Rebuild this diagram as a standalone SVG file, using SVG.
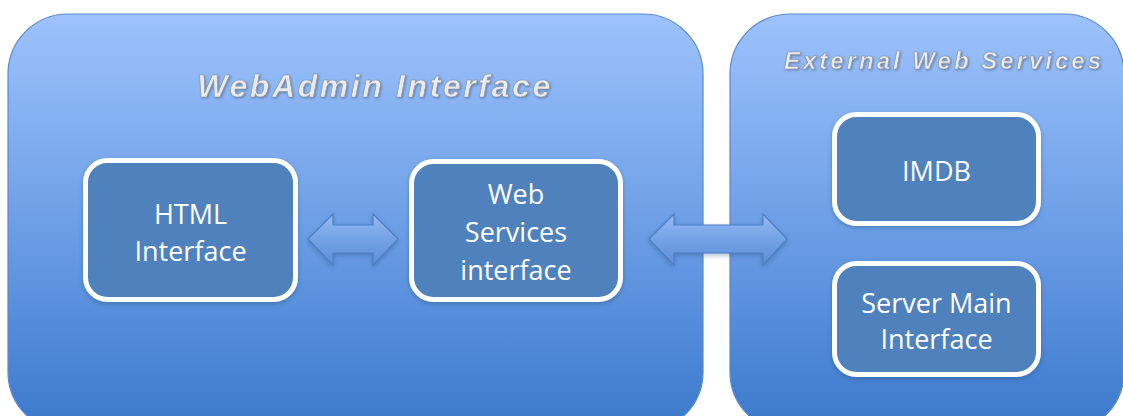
<svg xmlns="http://www.w3.org/2000/svg" width="1123" height="416" viewBox="0 0 1123 416">
  <defs>
    <linearGradient id="bgGrad" x1="0" y1="0" x2="0" y2="1">
      <stop offset="0" stop-color="#9dc2fc"/>
      <stop offset="0.5" stop-color="#6d9fe6"/>
      <stop offset="1" stop-color="#3b78cb"/>
    </linearGradient>
    <linearGradient id="arrowGrad" x1="0" y1="0" x2="0" y2="1">
      <stop offset="0" stop-color="#96bbf3"/>
      <stop offset="0.5" stop-color="#73a2e6"/>
      <stop offset="1" stop-color="#5d8fd9"/>
    </linearGradient>
    <filter id="shadow" x="-10%" y="-10%" width="120%" height="125%">
      <feDropShadow dx="0" dy="2" stdDeviation="2" flood-color="#1f3f70" flood-opacity="0.35"/>
    </filter>
    <filter id="txtShadow" x="-5%" y="-20%" width="110%" height="150%">
      <feDropShadow dx="1" dy="1" stdDeviation="0.8" flood-color="#4a5a78" flood-opacity="0.6"/>
    </filter>
    <style>
      .container { fill: url(#bgGrad); stroke: #5a89cc; stroke-width: 1.2; }
      .box { fill: #4f81bd; stroke: #ffffff; stroke-width: 5; filter: url(#shadow); }
      .label { font-family: "Open Sans", "Noto Sans", sans-serif; font-size: 27px; fill: #ffffff; text-anchor: middle; }
      .title { font-family: "Liberation Sans", Arial, sans-serif; font-weight: bold; font-style: italic; fill: #ebebeb; stroke: #8c99ad; stroke-width: 0.7; text-anchor: middle; filter: url(#txtShadow); }
      .arrow { fill: url(#arrowGrad); stroke: #4d7fc6; stroke-width: 1.2; stroke-linejoin: miter; filter: url(#shadow); }
    </style>
  </defs>

  <rect x="0" y="0" width="1123" height="416" fill="#ffffff"/>

  <g id="webadmin-container">
    <rect class="container" x="8" y="14" width="695" height="418" rx="60" ry="60"/>
    <text class="title" x="375" y="97" font-size="32" letter-spacing="2.6">WebAdmin Interface</text>
  </g>

  <g id="external-container">
    <rect class="container" x="730" y="14" width="394" height="418" rx="60" ry="60"/>
    <text class="title" x="944" y="69" font-size="24" letter-spacing="3">External Web Services</text>
  </g>

  <g id="connectors">
    <path class="arrow" d="M308,239 L333,214 L333,225 L373,225 L373,214 L398,239 L373,265 L373,253 L333,253 L333,265 Z"/>
    <path class="arrow" d="M649,239 L674,214 L674,225 L763,225 L763,214 L787,239 L763,265 L763,253 L674,253 L674,265 Z"/>
  </g>

  <g id="html-interface">
    <rect class="box" x="85.5" y="160.5" width="210" height="139" rx="22" ry="22"/>
    <text class="label" x="190.5" y="224">HTML</text>
    <text class="label" x="190.5" y="261">Interface</text>
  </g>

  <g id="web-services-interface">
    <rect class="box" x="411.5" y="161.5" width="209" height="138" rx="22" ry="22"/>
    <text class="label" x="516" y="204">Web</text>
    <text class="label" x="516" y="242">Services</text>
    <text class="label" x="516" y="280">interface</text>
  </g>

  <g id="imdb">
    <rect class="box" x="834.5" y="114.5" width="204" height="109" rx="22" ry="22"/>
    <text class="label" x="936.5" y="181">IMDB</text>
  </g>

  <g id="server-main-interface">
    <rect class="box" x="834.5" y="263.5" width="204" height="111" rx="22" ry="22"/>
    <text class="label" x="936.5" y="313">Server Main</text>
    <text class="label" x="936.5" y="349">Interface</text>
  </g>
</svg>
